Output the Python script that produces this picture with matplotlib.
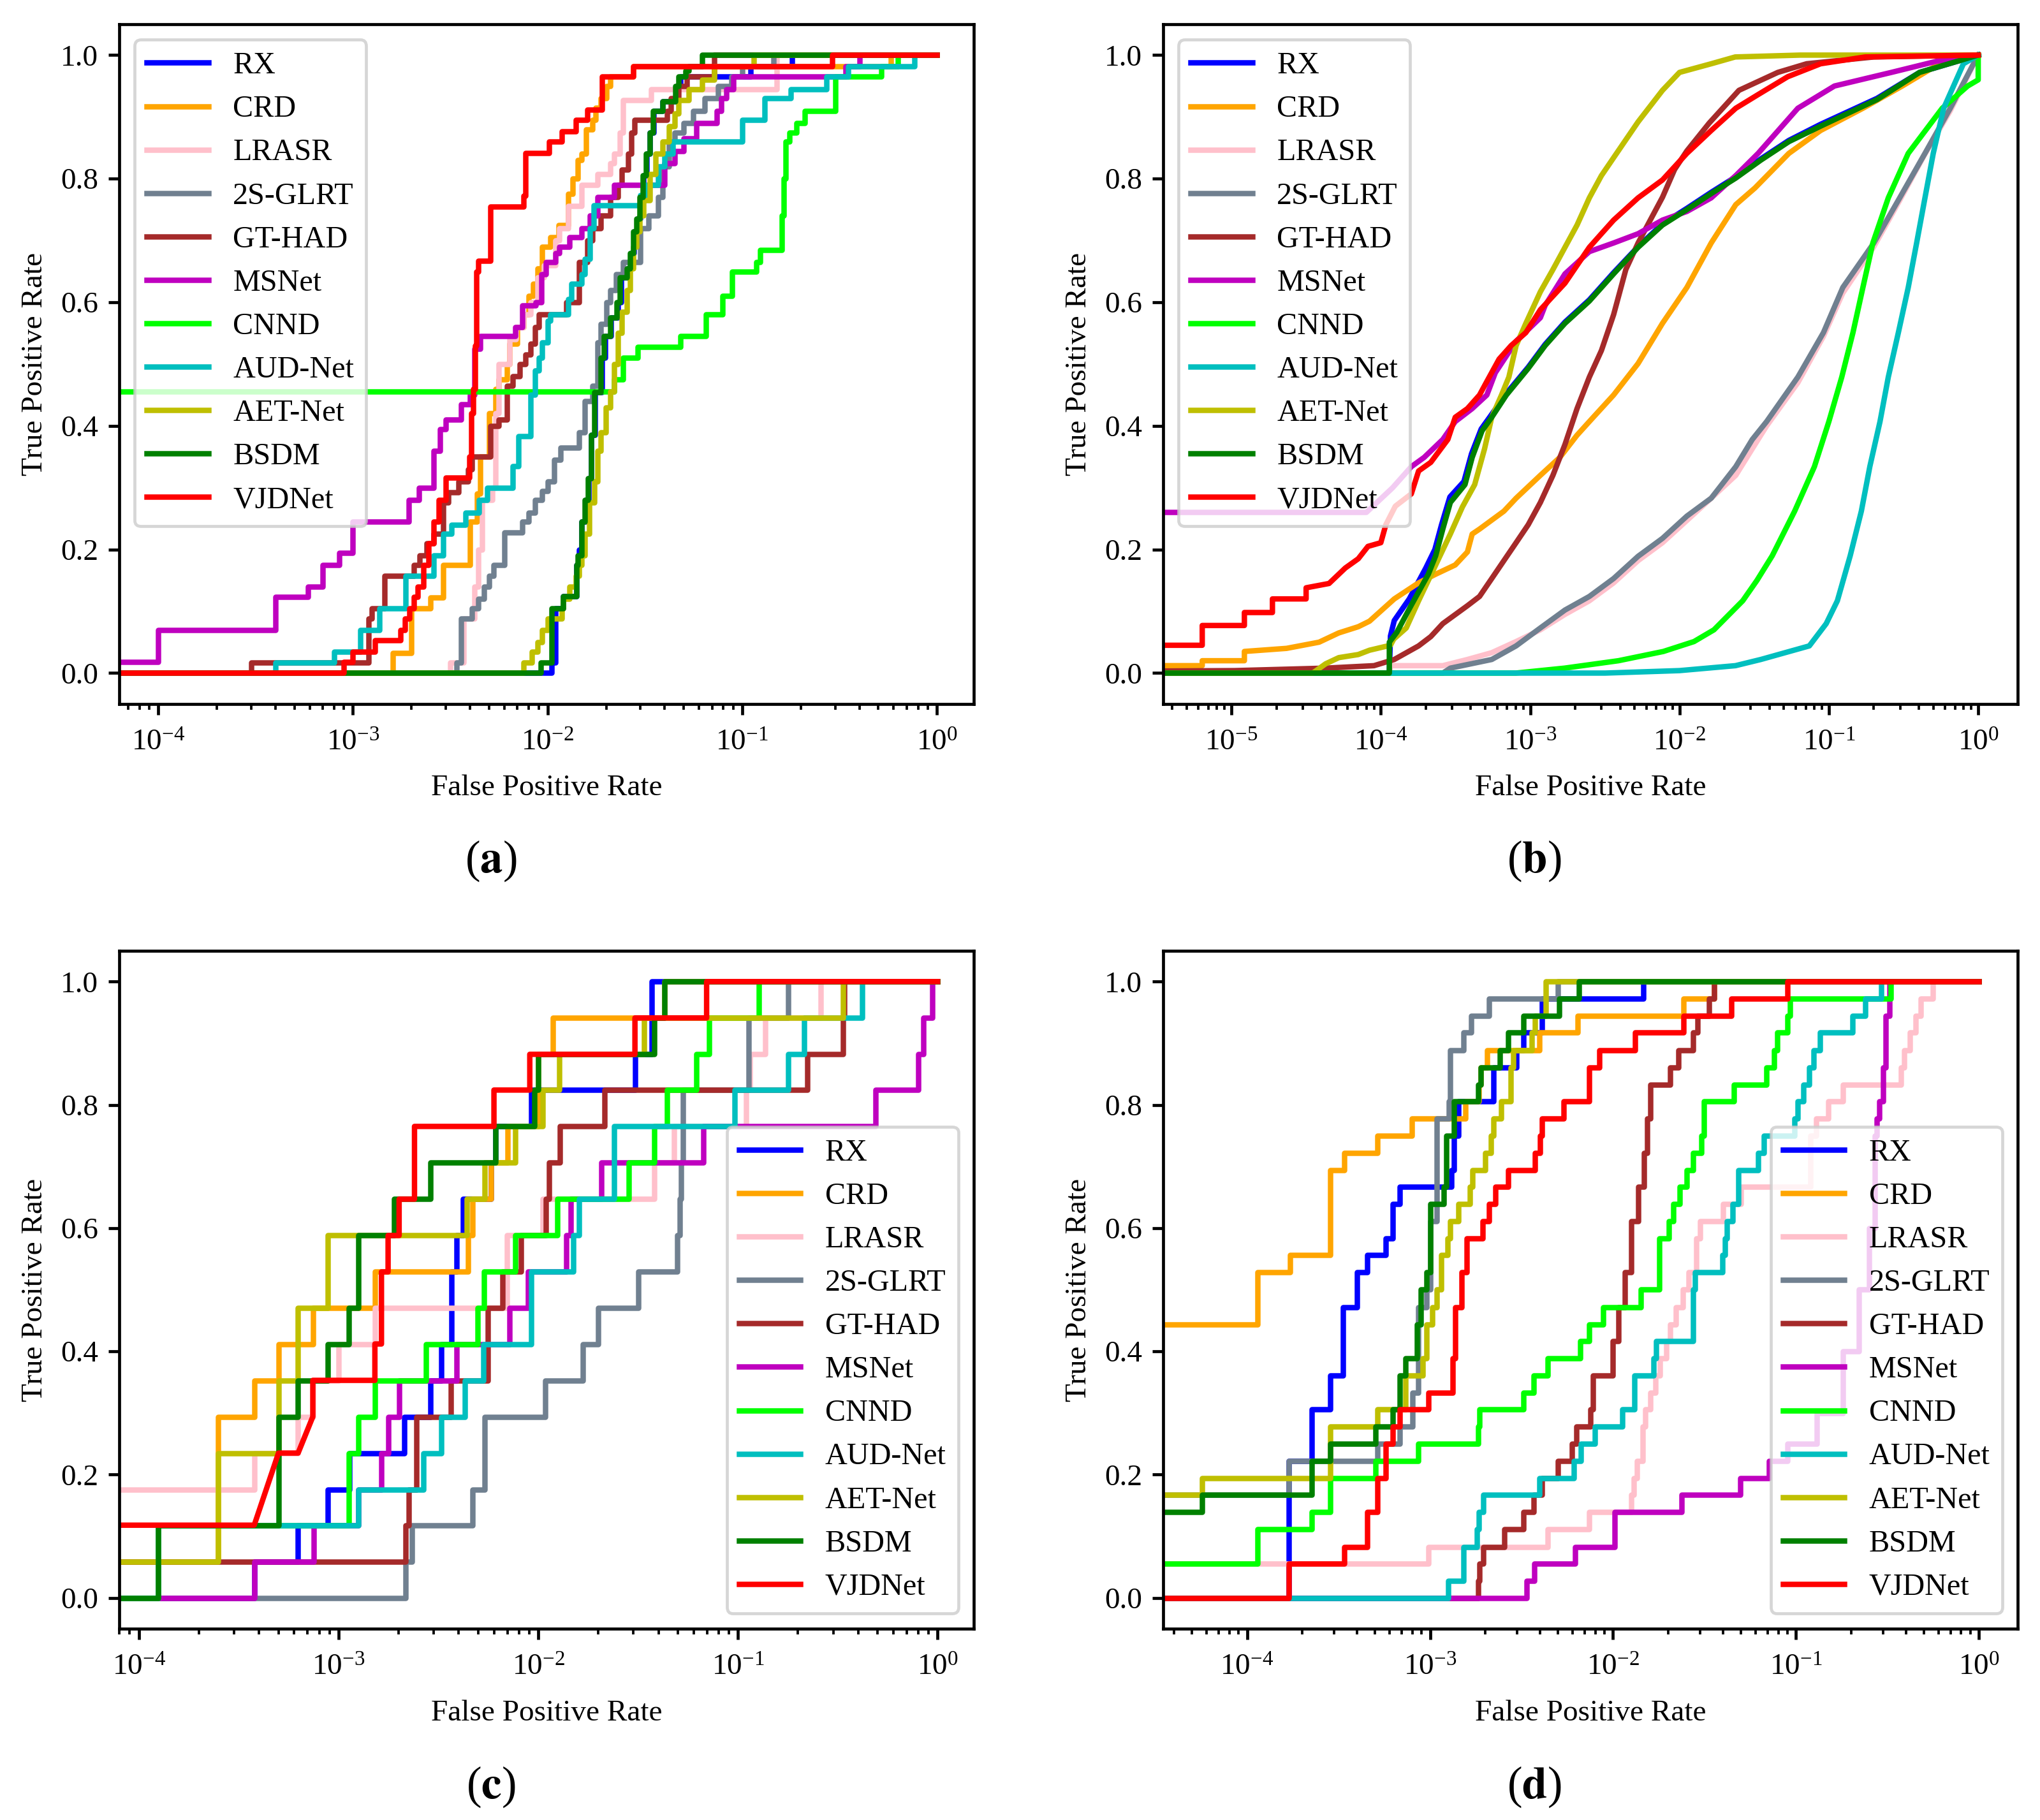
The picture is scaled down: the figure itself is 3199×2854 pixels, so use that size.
import numpy as np
import matplotlib
matplotlib.use("Agg")
import matplotlib.pyplot as plt

plt.rcParams["font.family"] = ["Liberation Serif", "DejaVu Serif"]
plt.rcParams["mathtext.fontset"] = "stix"
plt.rcParams["axes.linewidth"] = 1.0
plt.rcParams["xtick.major.width"] = 1.0
plt.rcParams["ytick.major.width"] = 1.0
plt.rcParams["xtick.minor.width"] = 0.8
plt.rcParams["xtick.major.pad"] = 5.0

methods = ["RX", "CRD", "LRASR", "2S-GLRT", "GT-HAD", "MSNet", "CNND",
           "AUD-Net", "AET-Net", "BSDM", "VJDNet"]
colors = ["b", "orange", "pink", "slategray", "brown", "m", "lime",
          "c", "y", "g", "r"]

# ---- panel (a): (fpr, tpr) step points ----
A_RX = [(1e-8, 0.0), (1.05e-2, 0.017), (1.1e-2, 0.105), (1.2e-2, 0.124), (1.41e-2, 0.175), (1.45e-2, 0.2),
        (1.5e-2, 0.245), (1.56e-2, 0.28), (1.62e-2, 0.315), (1.68e-2, 0.385), (1.75e-2, 0.455), (1.9e-2, 0.51),
        (1.97e-2, 0.545), (2.12e-2, 0.575), (2.3e-2, 0.6), (2.38e-2, 0.64), (2.57e-2, 0.655), (2.67e-2, 0.68),
        (2.77e-2, 0.715), (2.88e-2, 0.735), (3.0e-2, 0.77), (3.1e-2, 0.805), (3.22e-2, 0.84), (3.35e-2, 0.875),
        (3.5e-2, 0.91), (3.9e-2, 0.925), (4.6e-2, 0.95), (4.8e-2, 0.965), (0.11, 0.982), (0.18, 1.0), (1.0, 1.0)]
A_CRD = [(1e-8, 0.0), (1.6e-3, 0.032), (2.0e-3, 0.105), (2.5e-3, 0.122), (2.9e-3, 0.175), (4.0e-3, 0.245),
         (4.35e-3, 0.29), (4.5e-3, 0.35), (5.0e-3, 0.42), (5.4e-3, 0.46), (5.6e-3, 0.475), (6.2e-3, 0.5),
         (6.4e-3, 0.533), (7.0e-3, 0.56), (7.5e-3, 0.58), (8.0e-3, 0.61), (8.4e-3, 0.63), (8.9e-3, 0.655),
         (9.4e-3, 0.69), (1.03e-2, 0.705), (1.14e-2, 0.725), (1.28e-2, 0.775), (1.35e-2, 0.8), (1.43e-2, 0.83),
         (1.5e-2, 0.84), (1.58e-2, 0.88), (1.7e-2, 0.895), (1.77e-2, 0.915), (1.88e-2, 0.93), (2.0e-2, 0.95),
         (2.1e-2, 0.965), (2.75e-2, 0.982), (0.58, 1.0), (1.0, 1.0)]
A_LRASR = [(1e-8, 0.0), (3.15e-3, 0.017), (3.7e-3, 0.088), (4.2e-3, 0.14), (4.4e-3, 0.2), (4.6e-3, 0.28),
           (5.2e-3, 0.3), (5.4e-3, 0.42), (5.6e-3, 0.5), (6.4e-3, 0.54), (6.9e-3, 0.56), (7.5e-3, 0.58),
           (8.2e-3, 0.6), (8.9e-3, 0.64), (9.6e-3, 0.66), (1.1e-2, 0.7), (1.15e-2, 0.72), (1.28e-2, 0.756),
           (1.5e-2, 0.79), (1.8e-2, 0.807), (2.1e-2, 0.825), (2.2e-2, 0.84), (2.35e-2, 0.875), (2.45e-2, 0.927),
           (3.4e-2, 0.945), (0.15, 1.0), (1.0, 1.0)]
A_2SGLRT = [(1e-8, 0.0), (3.4e-3, 0.017), (3.6e-3, 0.088), (4.1e-3, 0.105), (4.4e-3, 0.12), (4.7e-3, 0.14),
            (5.0e-3, 0.157), (5.3e-3, 0.175), (6.0e-3, 0.228), (7.4e-3, 0.245), (8.0e-3, 0.26), (8.6e-3, 0.28),
            (9.4e-3, 0.295), (1.0e-2, 0.31), (1.08e-2, 0.345), (1.17e-2, 0.365), (1.45e-2, 0.39), (1.55e-2, 0.44),
            (1.7e-2, 0.465), (1.8e-2, 0.535), (1.88e-2, 0.565), (2.0e-2, 0.6), (2.1e-2, 0.62), (2.25e-2, 0.645),
            (2.45e-2, 0.665), (3.0e-2, 0.72), (3.3e-2, 0.74), (3.7e-2, 0.77), (3.9e-2, 0.82), (4.2e-2, 0.86),
            (4.5e-2, 0.875), (5.0e-2, 0.89), (5.6e-2, 0.91), (6.4e-2, 0.93), (7.5e-2, 0.95), (8.8e-2, 0.965),
            (0.1, 0.982), (0.145, 1.0), (1.0, 1.0)]
A_GTHAD = [(1e-8, 0.0), (3.0e-4, 0.017), (1.2e-3, 0.088), (1.25e-3, 0.105), (1.45e-3, 0.157), (2.05e-3, 0.175),
           (2.2e-3, 0.19), (2.4e-3, 0.21), (2.6e-3, 0.225), (2.9e-3, 0.276), (3.1e-3, 0.293), (3.5e-3, 0.31),
           (3.9e-3, 0.33), (4.1e-3, 0.35), (5.1e-3, 0.4), (5.6e-3, 0.41), (6.2e-3, 0.465), (6.6e-3, 0.48),
           (7.2e-3, 0.5), (7.7e-3, 0.515), (8.2e-3, 0.533), (8.6e-3, 0.56), (9.0e-3, 0.58), (1.25e-2, 0.6),
           (1.45e-2, 0.665), (1.6e-2, 0.7), (1.7e-2, 0.72), (1.88e-2, 0.74), (2.1e-2, 0.77), (2.3e-2, 0.79),
           (2.4e-2, 0.815), (2.6e-2, 0.84), (2.7e-2, 0.875), (2.8e-2, 0.895), (4.1e-2, 0.91), (4.3e-2, 0.93),
           (4.7e-2, 0.95), (5.2e-2, 0.965), (7.2e-2, 1.0), (1.0, 1.0)]
A_MSNET = [(1e-8, 0.018), (1.0e-4, 0.07), (4.0e-4, 0.123), (5.9e-4, 0.14), (7.0e-4, 0.175), (8.5e-4, 0.195),
           (1.0e-3, 0.245), (1.94e-3, 0.28), (2.18e-3, 0.3), (2.6e-3, 0.36), (2.8e-3, 0.395), (3.0e-3, 0.41),
           (3.6e-3, 0.435), (4.0e-3, 0.45), (4.2e-3, 0.525), (4.5e-3, 0.545), (6.8e-3, 0.56), (7.4e-3, 0.595),
           (8.7e-3, 0.6), (9.3e-3, 0.645), (9.8e-3, 0.665), (1.1e-2, 0.68), (1.15e-2, 0.69), (1.3e-2, 0.705),
           (1.5e-2, 0.72), (1.65e-2, 0.74), (1.8e-2, 0.77), (2.2e-2, 0.79), (4.0e-2, 0.825), (4.5e-2, 0.845),
           (5.0e-2, 0.865), (5.8e-2, 0.89), (7.4e-2, 0.91), (7.8e-2, 0.93), (8.3e-2, 0.945), (9.0e-2, 0.965),
           (0.34, 0.982), (0.4, 1.0), (1.0, 1.0)]
A_CNND = [(1e-8, 0.456), (2.2e-2, 0.475), (2.45e-2, 0.51), (2.9e-2, 0.528), (4.8e-2, 0.545), (6.5e-2, 0.58),
          (7.9e-2, 0.61), (8.9e-2, 0.65), (0.118, 0.665), (0.124, 0.685), (0.16, 0.74), (0.163, 0.8),
          (0.167, 0.86), (0.175, 0.875), (0.19, 0.89), (0.21, 0.91), (0.3, 0.965), (0.52, 0.982), (0.63, 1.0),
          (1.0, 1.0)]
A_AUD = [(1e-8, 0.0), (4.0e-4, 0.017), (8.0e-4, 0.035), (1.09e-3, 0.07), (1.37e-3, 0.105), (1.87e-3, 0.157),
         (2.6e-3, 0.19), (2.9e-3, 0.225), (3.2e-3, 0.24), (3.8e-3, 0.26), (4.45e-3, 0.28), (4.9e-3, 0.3),
         (6.6e-3, 0.335), (7.1e-3, 0.383), (8.2e-3, 0.45), (8.6e-3, 0.49), (9.0e-3, 0.51), (9.4e-3, 0.535),
         (1.0e-2, 0.57), (1.03e-2, 0.58), (1.28e-2, 0.605), (1.33e-2, 0.63), (1.5e-2, 0.645), (1.55e-2, 0.67),
         (1.65e-2, 0.72), (1.72e-2, 0.757), (3.0e-2, 0.773), (3.2e-2, 0.79), (3.7e-2, 0.82), (4.0e-2, 0.84),
         (4.4e-2, 0.86), (0.1, 0.895), (0.13, 0.93), (0.178, 0.945), (0.27, 0.965), (0.35, 0.982), (0.77, 1.0),
         (1.0, 1.0)]
A_AET = [(1e-8, 0.0), (7.5e-3, 0.017), (8.3e-3, 0.035), (8.9e-3, 0.05), (9.4e-3, 0.07), (1.0e-2, 0.088),
         (1.18e-2, 0.105), (1.2e-2, 0.12), (1.3e-2, 0.14), (1.4e-2, 0.157), (1.45e-2, 0.175), (1.5e-2, 0.19),
         (1.55e-2, 0.225), (1.64e-2, 0.276), (1.74e-2, 0.31), (1.8e-2, 0.36), (1.88e-2, 0.39), (1.99e-2, 0.43),
         (2.1e-2, 0.456), (2.2e-2, 0.5), (2.3e-2, 0.55), (2.4e-2, 0.585), (2.55e-2, 0.62), (2.65e-2, 0.655),
         (2.75e-2, 0.69), (2.86e-2, 0.715), (2.98e-2, 0.74), (3.1e-2, 0.765), (3.35e-2, 0.807), (3.6e-2, 0.84),
         (3.9e-2, 0.86), (4.2e-2, 0.885), (4.5e-2, 0.905), (4.7e-2, 0.927), (5.3e-2, 0.945), (6.2e-2, 0.96),
         (7.2e-2, 0.982), (0.115, 1.0), (1.0, 1.0)]
A_BSDM = [(1e-8, 0.0), (9.2e-3, 0.017), (1.05e-2, 0.105), (1.2e-2, 0.124), (1.41e-2, 0.175), (1.43e-2, 0.19),
          (1.49e-2, 0.245), (1.55e-2, 0.28), (1.61e-2, 0.315), (1.67e-2, 0.385), (1.74e-2, 0.455), (1.88e-2, 0.51),
          (1.95e-2, 0.545), (2.1e-2, 0.575), (2.27e-2, 0.6), (2.36e-2, 0.64), (2.55e-2, 0.655), (2.65e-2, 0.68),
          (2.75e-2, 0.715), (2.86e-2, 0.735), (2.98e-2, 0.77), (3.09e-2, 0.805), (3.21e-2, 0.84), (3.34e-2, 0.875),
          (3.47e-2, 0.91), (3.9e-2, 0.925), (4.55e-2, 0.95), (4.72e-2, 0.965), (5.1e-2, 0.975), (5.3e-2, 0.982),
          (6.2e-2, 1.0), (1.0, 1.0)]
A_VJD = [(1e-8, 0.0), (9.0e-4, 0.018), (1.0e-3, 0.035), (1.3e-3, 0.053), (1.75e-3, 0.07), (1.85e-3, 0.088),
         (1.95e-3, 0.105), (2.05e-3, 0.123), (2.15e-3, 0.14), (2.3e-3, 0.175), (2.45e-3, 0.21), (2.6e-3, 0.245),
         (2.75e-3, 0.28), (3.0e-3, 0.316), (3.95e-3, 0.35), (4.05e-3, 0.42), (4.15e-3, 0.46), (4.25e-3, 0.53),
         (4.3e-3, 0.65), (4.4e-3, 0.667), (5.1e-3, 0.755), (7.5e-3, 0.772), (7.7e-3, 0.842), (1.02e-2, 0.86),
         (1.18e-2, 0.877), (1.4e-2, 0.895), (1.6e-2, 0.912), (1.9e-2, 0.965), (2.75e-2, 0.982), (0.29, 1.0),
         (1.0, 1.0)]

# ---- panel (b): (fpr, tpr) polyline points ----
B_RX = [(1e-8, 0.0), (1.14e-4, 0.0), (1.16e-4, 0.06), (1.23e-4, 0.085), (1.55e-4, 0.12), (2.0e-4, 0.17),
        (2.3e-4, 0.2), (2.55e-4, 0.24), (2.9e-4, 0.285), (3.6e-4, 0.31), (4.05e-4, 0.355), (4.7e-4, 0.395),
        (5.5e-4, 0.418), (6.9e-4, 0.452), (9.7e-4, 0.495), (1.26e-3, 0.532), (1.71e-3, 0.568), (2.49e-3, 0.604),
        (3.62e-3, 0.648), (5.28e-3, 0.69), (7.69e-3, 0.727), (1.12e-2, 0.752), (1.63e-2, 0.778), (2.38e-2, 0.803),
        (3.5e-2, 0.832), (5.4e-2, 0.862), (8.8e-2, 0.888), (0.21, 0.93), (0.405, 0.972), (1.0, 1.0)]
B_CRD = [(1e-8, 0.012), (6.37e-6, 0.012), (6.37e-6, 0.02), (1.22e-5, 0.02), (1.22e-5, 0.035), (2.34e-5, 0.04),
         (3.86e-5, 0.05), (5.23e-5, 0.065), (7.06e-5, 0.075), (8.4e-5, 0.084), (1.23e-4, 0.12), (1.79e-4, 0.146),
         (2.33e-4, 0.16), (3.15e-4, 0.175), (3.8e-4, 0.196), (4.09e-4, 0.225), (4.58e-4, 0.233), (6.67e-4, 0.262),
         (8.05e-4, 0.283), (1.17e-3, 0.32), (1.58e-3, 0.349), (2.06e-3, 0.385), (2.49e-3, 0.407), (3.62e-3, 0.45),
         (5.28e-3, 0.501), (7.69e-3, 0.566), (1.12e-2, 0.624), (1.63e-2, 0.696), (2.38e-2, 0.758),
         (3.2e-2, 0.785), (5.4e-2, 0.841), (8.8e-2, 0.878), (0.169, 0.914), (0.31, 0.95), (0.55, 0.986),
         (1.0, 1.0)]
B_LRASR = [(1e-8, 0.0), (1.14e-4, 0.0), (1.16e-4, 0.012), (2.6e-4, 0.012), (3.8e-4, 0.022), (5.53e-4, 0.033),
           (8.05e-4, 0.051), (1.17e-3, 0.07), (1.71e-3, 0.095), (2.49e-3, 0.117), (3.62e-3, 0.146),
           (5.28e-3, 0.182), (7.69e-3, 0.211), (1.12e-2, 0.247), (1.63e-2, 0.283), (2.38e-2, 0.32),
           (3.07e-2, 0.363), (3.83e-2, 0.4), (6.2e-2, 0.47), (9.2e-2, 0.545), (0.124, 0.615), (0.2, 0.69),
           (0.298, 0.765), (0.44, 0.84), (0.65, 0.91), (0.93, 0.985), (1.0, 1.0)]
B_2SGLRT = [(1e-8, 0.0), (2.6e-4, 0.0), (2.92e-4, 0.008), (5.53e-4, 0.022), (8.05e-4, 0.044), (1.17e-3, 0.073),
            (1.71e-3, 0.102), (2.49e-3, 0.124), (3.62e-3, 0.153), (5.28e-3, 0.189), (7.69e-3, 0.218),
            (1.12e-2, 0.254), (1.63e-2, 0.283), (2.38e-2, 0.334), (3.07e-2, 0.378), (3.83e-2, 0.407),
            (6.2e-2, 0.479), (9.2e-2, 0.551), (0.124, 0.624), (0.2, 0.696), (0.298, 0.769), (0.44, 0.841),
            (0.65, 0.914), (0.93, 0.986), (1.0, 1.0)]
B_GTHAD = [(1e-8, 0.0), (1.05e-5, 0.004), (4.27e-5, 0.008), (9.0e-5, 0.012), (1.23e-4, 0.022), (1.79e-4, 0.044),
           (2.16e-4, 0.059), (2.6e-4, 0.08), (3.8e-4, 0.109), (4.58e-4, 0.124), (5.53e-4, 0.153), (6.67e-4, 0.182),
           (8.05e-4, 0.211), (9.7e-4, 0.24), (1.17e-3, 0.276), (1.42e-3, 0.32), (1.71e-3, 0.37), (2.06e-3, 0.428),
           (2.49e-3, 0.479), (3.0e-3, 0.522), (3.62e-3, 0.58), (4.37e-3, 0.653), (5.28e-3, 0.696),
           (6.37e-3, 0.733), (7.69e-3, 0.77), (9.27e-3, 0.815), (1.12e-2, 0.845), (1.58e-2, 0.89), (2.5e-2, 0.943),
           (4.55e-2, 0.972), (7.1e-2, 0.986), (0.2, 0.997), (1.0, 1.0)]
B_MSNET = [(1e-8, 0.26), (8e-5, 0.26), (1.2e-4, 0.3), (1.6e-4, 0.334), (1.95e-4, 0.349), (2.6e-4, 0.378),
           (3.15e-4, 0.407), (4.09e-4, 0.428), (5.13e-4, 0.45), (5.84e-4, 0.486), (8.05e-4, 0.537),
           (1.17e-3, 0.575), (1.26e-3, 0.595), (1.71e-3, 0.646), (2.49e-3, 0.682), (3.62e-3, 0.696),
           (5.28e-3, 0.711), (7.69e-3, 0.733), (1.12e-2, 0.747), (1.63e-2, 0.769), (2.38e-2, 0.805),
           (3.36e-2, 0.841), (6.2e-2, 0.914), (0.109, 0.95), (0.262, 0.972), (0.526, 0.99), (1.0, 1.0)]
B_CNND = [(1e-8, 0.0), (8.0e-4, 0.0), (1.7e-3, 0.008), (3.9e-3, 0.02), (7.8e-3, 0.035), (1.25e-2, 0.051),
          (1.7e-2, 0.07), (2.65e-2, 0.117), (3.3e-2, 0.15), (4.18e-2, 0.19), (5.9e-2, 0.262), (8.0e-2, 0.334),
          (0.1, 0.407), (0.122, 0.479), (0.145, 0.551), (0.169, 0.624), (0.197, 0.696), (0.25, 0.769),
          (0.34, 0.841), (0.574, 0.914), (0.85, 0.95), (1.0, 0.96), (1.0, 1.0)]
B_AUD = [(1e-8, 0.0), (3.18e-3, 0.0), (1.0e-2, 0.004), (2.37e-2, 0.012), (3.5e-2, 0.022), (7.4e-2, 0.044),
         (9.6e-2, 0.08), (0.114, 0.117), (0.139, 0.19), (0.165, 0.262), (0.188, 0.334), (0.22, 0.407),
         (0.25, 0.479), (0.292, 0.551), (0.34, 0.624), (0.387, 0.696), (0.44, 0.769), (0.5, 0.841),
         (0.587, 0.914), (0.796, 0.986), (1.0, 1.0)]
B_AET = [(1e-8, 0.0), (3.5e-5, 0.0), (4.27e-5, 0.015), (5.23e-5, 0.025), (7.06e-5, 0.03), (8.4e-5, 0.037),
         (1.16e-4, 0.045), (1.22e-4, 0.055), (1.48e-4, 0.073), (1.79e-4, 0.117), (2.33e-4, 0.175),
         (2.92e-4, 0.225), (3.52e-4, 0.269), (4.25e-4, 0.305), (4.95e-4, 0.363), (5.53e-4, 0.414),
         (6.43e-4, 0.45), (7.2e-4, 0.479), (8.05e-4, 0.53), (9.36e-4, 0.566), (1.17e-3, 0.617), (1.42e-3, 0.653),
         (1.71e-3, 0.689), (2.06e-3, 0.725), (2.49e-3, 0.769), (3.0e-3, 0.805), (3.62e-3, 0.834),
         (5.28e-3, 0.892), (7.69e-3, 0.943), (1.0e-2, 0.972), (1.63e-2, 0.986), (2.36e-2, 0.997),
         (6.43e-2, 1.0), (1.0, 1.0)]
B_BSDM = [(1e-8, 0.0), (1.14e-4, 0.0), (1.14e-4, 0.05), (1.28e-4, 0.066), (1.6e-4, 0.11), (2.08e-4, 0.16),
          (2.33e-4, 0.19), (2.6e-4, 0.233), (2.92e-4, 0.276), (3.66e-4, 0.305), (4.09e-4, 0.349), (4.76e-4, 0.392),
          (5.53e-4, 0.414), (6.93e-4, 0.45), (9.7e-4, 0.493), (1.26e-3, 0.53), (1.71e-3, 0.566), (2.49e-3, 0.602),
          (3.62e-3, 0.646), (5.28e-3, 0.689), (7.69e-3, 0.725), (1.12e-2, 0.75), (1.63e-2, 0.776),
          (2.38e-2, 0.801), (3.5e-2, 0.83), (5.4e-2, 0.86), (8.8e-2, 0.885), (0.21, 0.928), (0.405, 0.972),
          (1.0, 1.0)]
B_VJD = [(1e-8, 0.045), (6.37e-6, 0.045), (6.37e-6, 0.077), (1.22e-5, 0.077), (1.22e-5, 0.098), (1.88e-5, 0.098),
         (1.88e-5, 0.12), (3.16e-5, 0.12), (3.16e-5, 0.138), (4.5e-5, 0.145), (5.78e-5, 0.17), (7.06e-5, 0.185),
         (8.2e-5, 0.205), (1.0e-4, 0.211), (1.08e-4, 0.24), (1.25e-4, 0.27), (1.6e-4, 0.29), (1.79e-4, 0.327),
         (2.16e-4, 0.341), (2.81e-4, 0.378), (3.15e-4, 0.414), (3.8e-4, 0.428), (4.58e-4, 0.45), (5.13e-4, 0.472),
         (6.19e-4, 0.508), (7.46e-4, 0.53), (9.36e-4, 0.551), (1.17e-3, 0.588), (1.71e-3, 0.631),
         (2.49e-3, 0.689), (3.0e-3, 0.711), (3.62e-3, 0.733), (5.28e-3, 0.769), (7.69e-3, 0.798),
         (1.12e-2, 0.841), (1.63e-2, 0.878), (2.38e-2, 0.914), (3.3e-2, 0.935), (5.3e-2, 0.965), (8.8e-2, 0.986),
         (0.175, 0.997), (1.0, 1.0)]

# ---- panel (c): (fpr, tpr) step points ----
C_RX = [(1e-8, 0.0), (3.78e-4, 0.059), (6.27e-4, 0.118), (8.8e-4, 0.176), (1.13e-3, 0.235), (2.13e-3, 0.294),
        (2.88e-3, 0.353), (3.28e-3, 0.412), (3.67e-3, 0.529), (3.89e-3, 0.588), (4.2e-3, 0.647), (5.8e-3, 0.706),
        (6.1e-3, 0.765), (9.2e-3, 0.824), (3.05e-2, 0.882), (3.7e-2, 1.0), (1.0, 1.0)]
C_CRD = [(1e-8, 0.059), (2.5e-4, 0.294), (3.78e-4, 0.353), (5.0e-4, 0.412), (7.43e-4, 0.471), (1.52e-3, 0.529),
         (4.44e-3, 0.588), (4.7e-3, 0.647), (5.8e-3, 0.706), (7.0e-3, 0.765), (1.0e-2, 0.882), (1.18e-2, 0.941),
         (4.3e-2, 1.0), (1.0, 1.0)]
C_LRASR = [(1e-8, 0.176), (3.78e-4, 0.235), (6.27e-4, 0.294), (7.43e-4, 0.353), (1.0e-3, 0.412),
           (1.52e-3, 0.471), (6.97e-3, 0.588), (1.05e-2, 0.647), (3.8e-2, 0.706), (4.8e-2, 0.765), (0.11, 0.824),
           (0.115, 0.882), (0.137, 0.941), (0.26, 1.0), (1.0, 1.0)]
C_2SGLRT = [(1e-8, 0.0), (2.16e-3, 0.059), (2.33e-3, 0.118), (4.7e-3, 0.176), (5.4e-3, 0.294), (1.08e-2, 0.353),
            (1.67e-2, 0.412), (2.0e-2, 0.471), (3.16e-2, 0.529), (4.97e-2, 0.588), (5.1e-2, 0.647),
            (5.2e-2, 0.706), (5.3e-2, 0.824), (0.113, 0.941), (0.178, 1.0), (1.0, 1.0)]
C_GTHAD = [(1e-8, 0.059), (2.16e-3, 0.118), (2.25e-3, 0.176), (2.45e-3, 0.294), (3.65e-3, 0.353),
           (5.6e-3, 0.471), (6.6e-3, 0.529), (8.2e-3, 0.588), (1.09e-2, 0.647), (1.13e-2, 0.706), (1.28e-2, 0.765),
           (2.15e-2, 0.824), (0.223, 0.882), (0.335, 0.941), (0.34, 1.0), (1.0, 1.0)]
C_MSNET = [(1e-8, 0.0), (3.78e-4, 0.059), (7.5e-4, 0.118), (1.26e-3, 0.176), (1.64e-3, 0.235), (1.77e-3, 0.294),
           (2.01e-3, 0.353), (3.89e-3, 0.412), (7.2e-3, 0.471), (8.9e-3, 0.529), (1.38e-2, 0.588),
           (1.45e-2, 0.647), (2.07e-2, 0.706), (6.7e-2, 0.765), (0.49, 0.824), (0.8, 0.882), (0.85, 0.941),
           (0.94, 1.0), (1.0, 1.0)]
C_CNND = [(1e-8, 0.0), (1.245e-4, 0.118), (1.125e-3, 0.235), (1.26e-3, 0.294), (1.52e-3, 0.353),
          (2.73e-3, 0.412), (4.97e-3, 0.471), (5.36e-3, 0.529), (7.65e-3, 0.588), (1.25e-2, 0.647),
          (2.83e-2, 0.706), (3.8e-2, 0.765), (4.4e-2, 0.824), (6.2e-2, 0.882), (7.2e-2, 0.941), (0.127, 1.0),
          (1.0, 1.0)]
C_AUD = [(1e-8, 0.0), (1.245e-4, 0.118), (1.26e-3, 0.176), (2.67e-3, 0.235), (3.28e-3, 0.294), (4.3e-3, 0.353),
         (5.3e-3, 0.412), (9.2e-3, 0.529), (1.5e-2, 0.588), (1.6e-2, 0.647), (2.4e-2, 0.765), (9.6e-2, 0.824),
         (0.178, 0.882), (0.215, 0.941), (0.42, 1.0), (1.0, 1.0)]
C_AET = [(1e-8, 0.059), (2.5e-4, 0.235), (5.0e-4, 0.353), (6.27e-4, 0.471), (8.8e-4, 0.588), (4.4e-3, 0.647),
         (5.4e-3, 0.706), (7.65e-3, 0.765), (1.05e-2, 0.824), (1.27e-2, 0.882), (3.4e-2, 0.941), (0.337, 1.0),
         (1.0, 1.0)]
C_BSDM = [(1e-8, 0.0), (1.245e-4, 0.118), (5.0e-4, 0.294), (6.27e-4, 0.353), (8.8e-4, 0.412), (1.125e-3, 0.471),
          (1.26e-3, 0.588), (1.9e-3, 0.647), (2.88e-3, 0.706), (6.1e-3, 0.765), (9.6e-3, 0.824), (1.0e-2, 0.882),
          (3.8e-2, 0.941), (4.3e-2, 1.0), (1.0, 1.0)]
# VJDNet in (c) has sloped pieces, so its corners are listed directly
C_VJD = [(1e-8, 0.118), (3.78e-4, 0.118), (5.0e-4, 0.235), (6.27e-4, 0.235), (7.43e-4, 0.294), (7.43e-4, 0.353),
         (1.52e-3, 0.353), (1.52e-3, 0.412), (1.64e-3, 0.412), (1.64e-3, 0.529), (1.77e-3, 0.529),
         (1.77e-3, 0.588), (2.01e-3, 0.588), (2.01e-3, 0.647), (2.4e-3, 0.647), (2.4e-3, 0.765), (6.0e-3, 0.765),
         (6.0e-3, 0.824), (9.07e-3, 0.824), (9.07e-3, 0.882), (3.05e-2, 0.882), (3.05e-2, 0.941),
         (6.97e-2, 0.941), (6.97e-2, 1.0), (1.0, 1.0)]

# ---- panel (d): (fpr, tpr) step points ----
D_RX = [(1e-8, 0.0), (1.69e-4, 0.222), (2.26e-4, 0.306), (2.85e-4, 0.361), (3.34e-4, 0.472), (4.0e-4, 0.528),
        (4.53e-4, 0.556), (5.72e-4, 0.583), (6.25e-4, 0.639), (6.84e-4, 0.667), (1.31e-3, 0.694),
        (1.35e-3, 0.75), (1.43e-3, 0.806), (2.22e-3, 0.861), (2.97e-3, 0.889), (3.25e-3, 0.917),
        (4.1e-3, 0.972), (1.46e-2, 1.0), (1.0, 1.0)]
D_CRD = [(1e-8, 0.444), (1.14e-4, 0.528), (1.72e-4, 0.556), (2.85e-4, 0.694), (3.4e-4, 0.722), (5.14e-4, 0.75),
         (7.98e-4, 0.778), (1.56e-3, 0.806), (1.85e-3, 0.833), (1.9e-3, 0.861), (2.05e-3, 0.889),
         (3.95e-3, 0.917), (6.4e-3, 0.944), (2.42e-2, 0.972), (3.58e-2, 1.0), (1.0, 1.0)]
D_LRASR = [(1e-8, 0.056), (9.8e-4, 0.083), (4.4e-3, 0.111), (7.4e-3, 0.139), (1.26e-2, 0.167), (1.3e-2, 0.194),
           (1.35e-2, 0.222), (1.45e-2, 0.278), (1.5e-2, 0.306), (1.6e-2, 0.333), (1.7e-2, 0.361),
           (1.8e-2, 0.389), (1.95e-2, 0.417), (2.05e-2, 0.444), (2.2e-2, 0.472), (2.4e-2, 0.5), (2.6e-2, 0.528),
           (2.85e-2, 0.583), (3.0e-2, 0.611), (4.0e-2, 0.639), (5.0e-2, 0.667), (0.12, 0.75), (0.129, 0.778),
           (0.15, 0.806), (0.18, 0.833), (0.375, 0.861), (0.39, 0.889), (0.42, 0.917), (0.45, 0.944),
           (0.48, 0.972), (0.56, 1.0), (1.0, 1.0)]
D_2SGLRT = [(1e-8, 0.167), (1.69e-4, 0.222), (5.14e-4, 0.25), (6.84e-4, 0.278), (8.0e-4, 0.333), (8.6e-4, 0.472),
            (9.6e-4, 0.5), (1.0e-3, 0.611), (1.09e-3, 0.778), (1.27e-3, 0.806), (1.29e-3, 0.889),
            (1.52e-3, 0.917), (1.68e-3, 0.944), (2.1e-3, 0.972), (5.0e-3, 1.0), (1.0, 1.0)]
D_GTHAD = [(1e-8, 0.0), (1.83e-3, 0.028), (1.86e-3, 0.056), (1.95e-3, 0.083), (2.55e-3, 0.111), (3.25e-3, 0.139),
           (3.68e-3, 0.167), (4.1e-3, 0.194), (5.0e-3, 0.222), (5.95e-3, 0.25), (6.3e-3, 0.278), (7.5e-3, 0.306),
           (7.8e-3, 0.361), (1.0e-2, 0.417), (1.07e-2, 0.472), (1.16e-2, 0.528), (1.26e-2, 0.611),
           (1.37e-2, 0.667), (1.48e-2, 0.722), (1.54e-2, 0.778), (1.6e-2, 0.833), (2.06e-2, 0.861),
           (2.27e-2, 0.889), (2.73e-2, 0.917), (2.9e-2, 0.944), (3.36e-2, 0.972), (3.58e-2, 1.0), (1.0, 1.0)]
D_MSNET = [(1e-8, 0.0), (3.36e-3, 0.028), (3.7e-3, 0.056), (6.2e-3, 0.083), (1.02e-2, 0.139), (2.38e-2, 0.167),
           (4.97e-2, 0.194), (7.1e-2, 0.222), (0.09, 0.25), (0.13, 0.3), (0.18, 0.4), (0.22, 0.5), (0.25, 0.6),
           (0.27, 0.75), (0.277, 0.778), (0.285, 0.806), (0.3, 0.861), (0.31, 0.944), (0.324, 1.0), (1.0, 1.0)]
D_CNND = [(1e-8, 0.056), (1.14e-4, 0.111), (2.26e-4, 0.139), (2.85e-4, 0.194), (5.05e-4, 0.222), (8.6e-4, 0.25),
          (1.83e-3, 0.278), (1.86e-3, 0.306), (3.25e-3, 0.333), (3.68e-3, 0.361), (4.4e-3, 0.389),
          (6.6e-3, 0.417), (7.4e-3, 0.444), (8.85e-3, 0.472), (1.42e-2, 0.5), (1.79e-2, 0.583), (2.02e-2, 0.611),
          (2.14e-2, 0.639), (2.32e-2, 0.667), (2.52e-2, 0.694), (2.73e-2, 0.722), (3.04e-2, 0.75),
          (3.14e-2, 0.806), (4.58e-2, 0.833), (6.9e-2, 0.861), (7.6e-2, 0.889), (7.9e-2, 0.917),
          (8.95e-2, 0.944), (9.3e-2, 0.972), (0.33, 1.0), (1.0, 1.0)]
D_AUD = [(1e-8, 0.0), (1.26e-3, 0.028), (1.52e-3, 0.083), (1.8e-3, 0.111), (1.85e-3, 0.139), (1.95e-3, 0.167),
         (3.95e-3, 0.194), (6.1e-3, 0.222), (6.65e-3, 0.25), (7.95e-3, 0.278), (1.12e-2, 0.306), (1.31e-2, 0.361),
         (1.67e-2, 0.389), (1.72e-2, 0.417), (2.73e-2, 0.5), (2.8e-2, 0.528), (3.95e-2, 0.556), (4.1e-2, 0.583),
         (4.2e-2, 0.611), (4.5e-2, 0.639), (4.85e-2, 0.694), (6.2e-2, 0.722), (6.7e-2, 0.75), (9.8e-2, 0.778),
         (0.102, 0.806), (0.11, 0.833), (0.118, 0.861), (0.125, 0.889), (0.135, 0.917), (0.203, 0.944),
         (0.24, 0.972), (0.293, 1.0), (1.0, 1.0)]
D_AET = [(1e-8, 0.167), (5.68e-5, 0.194), (2.85e-4, 0.278), (5.14e-4, 0.306), (7.35e-4, 0.361), (9.1e-4, 0.389),
         (9.6e-4, 0.444), (1.03e-3, 0.472), (1.09e-3, 0.5), (1.15e-3, 0.556), (1.25e-3, 0.583), (1.29e-3, 0.611),
         (1.43e-3, 0.639), (1.65e-3, 0.667), (1.7e-3, 0.694), (2.0e-3, 0.722), (2.15e-3, 0.75), (2.22e-3, 0.778),
         (2.45e-3, 0.806), (2.75e-3, 0.861), (2.86e-3, 0.889), (3.6e-3, 0.917), (3.75e-3, 0.944), (4.3e-3, 1.0),
         (1.0, 1.0)]
D_BSDM = [(1e-8, 0.139), (5.68e-5, 0.167), (2.26e-4, 0.222), (2.85e-4, 0.25), (5.05e-4, 0.278), (6.25e-4, 0.306),
          (6.84e-4, 0.361), (7.35e-4, 0.389), (8.48e-4, 0.444), (8.9e-4, 0.5), (9.6e-4, 0.528), (1.0e-3, 0.639),
          (1.19e-3, 0.667), (1.23e-3, 0.75), (1.35e-3, 0.806), (1.83e-3, 0.833), (1.9e-3, 0.861),
          (2.4e-3, 0.889), (2.67e-3, 0.917), (3.25e-3, 0.944), (5.08e-3, 0.972), (6.5e-3, 1.0), (1.0, 1.0)]
D_VJD = [(1e-8, 0.0), (1.69e-4, 0.056), (3.4e-4, 0.083), (4.53e-4, 0.139), (5.14e-4, 0.194), (5.72e-4, 0.25),
         (6.25e-4, 0.278), (6.84e-4, 0.306), (9.8e-4, 0.333), (1.33e-3, 0.389), (1.37e-3, 0.472),
         (1.49e-3, 0.528), (1.58e-3, 0.583), (1.94e-3, 0.611), (2.1e-3, 0.639), (2.27e-3, 0.667),
         (2.67e-3, 0.694), (3.74e-3, 0.722), (4.0e-3, 0.75), (4.1e-3, 0.778), (5.36e-3, 0.806), (7.4e-3, 0.861),
         (8.4e-3, 0.889), (1.32e-2, 0.917), (2.42e-2, 0.944), (4.45e-2, 0.972), (8.95e-2, 1.0), (1.0, 1.0)]

panels = [
    ("a", [A_RX, A_CRD, A_LRASR, A_2SGLRT, A_GTHAD, A_MSNET, A_CNND, A_AUD, A_AET, A_BSDM, A_VJD],
     "steps-post", (6.31e-5, 1.55), "upper left"),
    ("b", [B_RX, B_CRD, B_LRASR, B_2SGLRT, B_GTHAD, B_MSNET, B_CNND, B_AUD, B_AET, B_BSDM, B_VJD],
     "default", (3.49e-6, 1.84), "upper left"),
    ("c", [C_RX, C_CRD, C_LRASR, C_2SGLRT, C_GTHAD, C_MSNET, C_CNND, C_AUD, C_AET, C_BSDM, C_VJD],
     "steps-post", (7.98e-5, 1.52), "lower right"),
    ("d", [D_RX, D_CRD, D_LRASR, D_2SGLRT, D_GTHAD, D_MSNET, D_CNND, D_AUD, D_AET, D_BSDM, D_VJD],
     "steps-post", (3.48e-5, 1.63), "lower right"),
]

axes_rects = [[0.0585, 0.6132, 0.4189, 0.3735], [0.5702, 0.6132, 0.4189, 0.3735],
              [0.0585, 0.1051, 0.4189, 0.3725], [0.5702, 0.1051, 0.4189, 0.3725]]
label_pos = [(0.2405, 0.527), (0.752, 0.527), (0.2405, 0.0183), (0.752, 0.0183)]

fig = plt.figure(figsize=(3199 / 340, 2854 / 340), dpi=340)

for (tag, curves, style, xlim, loc), rect, (lx, ly) in zip(panels, axes_rects, label_pos):
    ax = fig.add_axes(rect)
    for name, color, pts in zip(methods, colors, curves):
        fpr, tpr = zip(*pts)
        ds = style
        if tag == "c" and name == "VJDNet":
            ds = "default"
        ax.plot(fpr, tpr, color=color, lw=1.8, label=name, drawstyle=ds)
    ax.set_xscale("log")
    ax.set_xlim(*xlim)
    ax.set_ylim(-0.05, 1.05)
    ax.set_xlabel("False Positive Rate", labelpad=6)
    ax.set_ylabel("True Positive Rate")
    ax.legend(loc=loc, fontsize=10.2)
    # caption letter in bold between regular parentheses
    fig.text(lx, ly, "(" + r"$\mathbf{" + tag + "}$" + ")", ha="center", va="center", fontsize=15)

fig.savefig("out.png", dpi=340)
